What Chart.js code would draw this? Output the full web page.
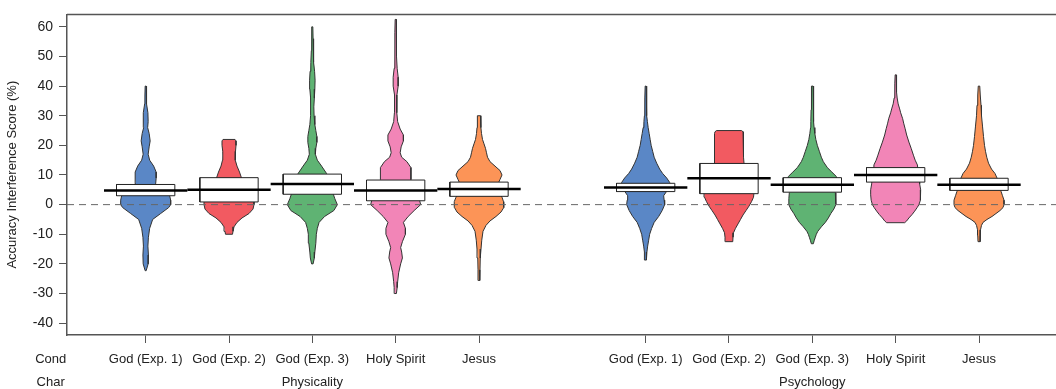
<!DOCTYPE html>
<html>
<head>
<meta charset="utf-8">
<script src="https://cdn.jsdelivr.net/npm/chart.js@4.4.0/dist/chart.umd.min.js"></script>
<style>
  html, body { margin: 0; padding: 0; background: #fff; }
  #wrap { width: 1056px; height: 389px; }
</style>
</head>
<body>
<div id="wrap"><canvas id="chart" width="1056" height="389"></canvas></div>
<script>
// ---------- Data ----------
const CONDS = ["God (Exp. 1)", "God (Exp. 2)", "God (Exp. 3)", "Holy Spirit", "Jesus"];
const CHARS = ["Physicality", "Psychology"];
const Y_TICKS = [-40, -30, -20, -10, 0, 10, 20, 30, 40, 50, 60];
const COLORS = ["#5A87C6", "#F25A61", "#5FB373", "#F285B7", "#FC9457"];

// density outlines: score levels and relative width (% of widest point)
const phys_god1_y = [-22.3, -20, -17, -14, -11, -8, -5, -3, -1, 0, 1.5, 3, 5, 7, 9, 11, 13, 15, 17, 19.5, 21.5, 24, 26, 28, 31, 34, 37, 40];
const phys_god1_d = [2, 10, 11, 9, 11, 16, 28, 60, 92, 100, 100, 96, 72, 40, 42, 42, 32, 16, 10, 14, 18, 14, 8, 10, 9, 4, 3, 2];
const phys_god2_y = [-10, -9, -7.5, -6, -4.5, -3, -1.5, 0, 1.5, 3, 5, 7, 9, 11, 13, 15, 16.5, 18, 20, 21.5, 22];
const phys_god2_d = [14, 16, 20, 32, 52, 80, 96, 100, 100, 92, 76, 60, 50, 42, 32, 26, 24, 26, 28, 28, 24];
const phys_god3_y = [-20, -18, -16, -13, -10, -8, -6, -4, -2, 0, 2, 4, 6, 8, 10.5, 13, 15, 17, 19, 21, 23, 25, 27, 30, 33, 36, 39, 42, 45, 48, 52, 56, 60];
const phys_god3_d = [3, 8, 10, 14, 16, 20, 27, 49, 86, 100, 90, 82, 73, 65, 57, 37, 20, 12, 14, 18, 18, 14, 10, 7, 6, 8, 10, 11, 9, 6, 4, 3, 2];
const phys_hs_y = [-30, -28, -26, -23, -20, -18, -16, -14.5, -12.5, -10, -8, -6, -4, -2, 0, 2, 4, 6, 8.5, 10.5, 12.5, 14.5, 16, 17.5, 19.5, 21.5, 23.5, 25.5, 28, 31, 34, 37, 40, 43, 46, 50, 54, 58, 62.5];
const phys_hs_d = [3, 6, 8, 12, 20, 27, 24, 20, 27, 39, 39, 31, 50, 74, 100, 94, 78, 65, 61, 61, 61, 45, 24, 18, 22, 31, 31, 18, 8, 5, 4, 5, 10, 10, 6, 4, 3, 3, 2];
const phys_jesus_y = [-25.6, -22, -18, -15, -12, -9, -7, -5.5, -4, -2.5, -1, 0, 1, 2.5, 4, 5.5, 7, 8.5, 10, 11.5, 13, 14.5, 16, 17.5, 19, 20.5, 22, 24, 26, 28, 30];
const phys_jesus_d = [3, 4, 5, 8, 11, 16, 28, 44, 68, 88, 98, 100, 98, 92, 80, 72, 76, 84, 92, 84, 64, 44, 34, 30, 26, 20, 14, 10, 8, 7, 6];
const psy_god1_y = [-18.7, -16, -14, -12, -10, -8, -6, -4, -2, 0, 1.5, 3, 4.5, 6, 7.5, 9, 10.5, 12, 14, 16, 18, 20, 22, 24, 26, 28, 30, 33, 36, 40];
const psy_god1_d = [3, 5, 8, 12, 16, 24, 34, 52, 66, 76, 74, 72, 84, 100, 96, 84, 68, 56, 44, 34, 28, 22, 18, 14, 10, 7, 5, 4, 3, 2];
const psy_god2_y = [-12.5, -11, -9.5, -8, -6.5, -5, -3.5, -2, -0.5, 1, 2.5, 4, 6, 8, 10, 12, 14, 16, 18, 20, 22, 24, 24.6, 25];
const psy_god2_d = [15, 16, 18, 26, 36, 46, 56, 68, 80, 90, 98, 100, 92, 80, 70, 64, 60, 58, 58, 58, 58, 58, 56, 50];
const psy_god3_y = [-13.2, -12, -11, -10, -9, -7.5, -6, -4.5, -3, -1.5, 0, 2, 4, 6, 8, 9.5, 11, 12.5, 14.5, 16, 18, 20, 22, 24, 26, 28, 32, 36, 40];
const psy_god3_d = [4, 8, 12, 16, 22, 36, 52, 64, 74, 86, 94, 94, 92, 96, 100, 96, 78, 60, 44, 36, 28, 20, 14, 10, 7, 6, 5, 4, 3];
const psy_hs_y = [-6.1, -5.5, -4.5, -3.3, -2.2, -1, 0, 1.5, 3.3, 5, 7, 9, 11, 13.4, 15, 16.7, 19, 21.1, 23.5, 25.6, 27.5, 29, 31, 32.3, 34, 36, 38, 41, 43.8];
const psy_hs_d = [36, 44, 53, 66, 76, 86, 93, 98, 100, 100, 96, 94, 90, 87, 78, 71, 62, 53, 44, 38, 32, 28, 20, 16, 10, 6, 4, 3, 2];
const psy_jesus_y = [-12.5, -10.5, -8.5, -7, -6, -5, -4, -3, -2, -1, 0, 1.5, 3, 4.5, 6, 7.5, 9, 10.5, 12, 14, 16, 18, 20, 23, 26.5, 30, 33.5, 37, 40];
const psy_jesus_d = [4, 5, 6, 10, 16, 32, 52, 68, 84, 96, 100, 100, 94, 88, 84, 78, 72, 64, 50, 38, 31, 26, 22, 18, 14, 10, 8, 5, 3];

// means and 95% inference bands, same order as the beans
const MEANS   = [4.8, 5.0, 7.0, 4.8, 5.3, 5.8, 8.9, 6.7, 10.0, 6.7];
const BAND_LO = [3.0, 0.9, 3.5, 1.3, 2.8, 4.4, 3.7, 4.2, 7.6, 4.8];
const BAND_HI = [6.8, 9.1, 10.3, 8.3, 7.6, 7.2, 13.9, 9.1, 12.5, 8.9];

const BEANS = [
  [phys_god1_y, phys_god1_d], [phys_god2_y, phys_god2_d], [phys_god3_y, phys_god3_d],
  [phys_hs_y, phys_hs_d], [phys_jesus_y, phys_jesus_d],
  [psy_god1_y, psy_god1_d], [psy_god2_y, psy_god2_d], [psy_god3_y, psy_god3_d],
  [psy_hs_y, psy_hs_d], [psy_jesus_y, psy_jesus_d],
];

// ---------- Layout ----------
const X_MIN = 0.056, X_MAX = 11.924;
const BEAN_W = 0.3, BAND_W = 0.35, MEAN_W = 0.5;
const xPos = (i) => Math.floor(i / 5) * 6 + (i % 5) + 1;
const POSITIONS = BEANS.map((_, i) => xPos(i));
const FONT = "'Liberation Sans', Arial, Helvetica, sans-serif";

// ---------- Datasets ----------
const datasets = [];
BEANS.forEach(([ys, ds], i) => {
  const cx = xPos(i);
  const left = ys.map((y, k) => ({ x: cx - BEAN_W * ds[k] / 100, y }));
  const right = ys.map((y, k) => ({ x: cx + BEAN_W * ds[k] / 100, y })).reverse();
  datasets.push({ data: [...left, ...right, left[0]], polyFill: COLORS[i % 5], borderColor: "#333", borderWidth: 1, order: 4 });

  const lo = BAND_LO[i], hi = BAND_HI[i];
  datasets.push({
    data: [{ x: cx - BAND_W, y: lo }, { x: cx + BAND_W, y: lo }, { x: cx + BAND_W, y: hi }, { x: cx - BAND_W, y: hi }, { x: cx - BAND_W, y: lo }],
    polyFill: "#fff", borderColor: "#222", borderWidth: 1, order: 2,
  });

  datasets.push({ data: [{ x: cx - MEAN_W, y: MEANS[i] }, { x: cx + MEAN_W, y: MEANS[i] }], borderColor: "#000", borderWidth: 2.5, order: 1 });
});
datasets.push({ data: [{ x: X_MIN, y: 0 }, { x: X_MAX, y: 0 }], borderColor: "#666", borderWidth: 1, borderDash: [7, 5], order: 3 });
datasets.forEach((d) => Object.assign(d, { showLine: true, pointRadius: 0, tension: 0, fill: false }));

// ---------- Plugins ----------
const polyFill = {
  id: "polyFill",
  beforeDatasetDraw(chart, args) {
    const ds = chart.data.datasets[args.index];
    if (!ds.polyFill) return;
    const ctx = chart.ctx;
    const { left, top, right, bottom } = chart.chartArea;
    ctx.save();
    ctx.beginPath();
    ctx.rect(left, top, right - left, bottom - top);
    ctx.clip();
    ctx.beginPath();
    args.meta.data.forEach((p, k) => (k ? ctx.lineTo(p.x, p.y) : ctx.moveTo(p.x, p.y)));
    ctx.closePath();
    ctx.fillStyle = ds.polyFill;
    ctx.fill();
    ctx.restore();
  },
};

const frameAndRows = {
  id: "frameAndRows",
  afterDraw(chart) {
    const ctx = chart.ctx;
    const { left, top, right } = chart.chartArea;
    const xs = chart.scales.x;
    ctx.save();
    ctx.strokeStyle = "#555";
    ctx.lineWidth = 1.5;
    ctx.beginPath();
    ctx.moveTo(left, top);
    ctx.lineTo(right, top);
    ctx.stroke();
    ctx.fillStyle = "#222";
    ctx.font = "13px " + FONT;
    ctx.textAlign = "center";
    ctx.textBaseline = "middle";
    ctx.fillText("Cond", xs.getPixelForValue(-0.14), xs.top + 24);
    ctx.fillText("Char", xs.getPixelForValue(-0.14), xs.top + 47);
    ctx.restore();
  },
};

// ---------- Chart ----------
Chart.defaults.font.family = FONT;
Chart.defaults.color = "#222";

new Chart(document.getElementById("chart"), {
  type: "scatter",
  data: { datasets },
  options: {
    responsive: false,
    animation: false,
    layout: { padding: { top: 11, left: 0, right: 0, bottom: 0 } },
    plugins: { legend: { display: false }, tooltip: { enabled: false } },
    scales: {
      x: {
        type: "linear",
        min: X_MIN,
        max: X_MAX,
        afterBuildTicks: (s) => { s.ticks = POSITIONS.map((v) => ({ value: v })); },
        afterFit: (s) => { s.height = 54; },
        grid: { drawOnChartArea: false, tickLength: 8, color: "#555" },
        border: { color: "#555", width: 1.5 },
        ticks: {
          autoSkip: false,
          maxRotation: 0,
          padding: 5,
          color: "#222",
          font: { size: 13, lineHeight: 23 / 13 },
          callback: (v, i) => (i % 5 === 2 ? [CONDS[i % 5], CHARS[Math.floor(i / 5)]] : CONDS[i % 5]),
        },
      },
      y: {
        min: -44,
        max: 64.2,
        afterBuildTicks: (s) => { s.ticks = Y_TICKS.map((v) => ({ value: v })); },
        afterFit: (s) => { s.width = 67; },
        grid: { drawOnChartArea: false, tickLength: 8, color: "#555" },
        border: { color: "#555", width: 1.5 },
        ticks: { padding: 6, color: "#222", font: { size: 14 } },
        title: {
          display: true,
          text: "Accuracy Interference Score (%)",
          color: "#222",
          font: { size: 13 },
          padding: { top: 5, bottom: 0 },
        },
      },
    },
  },
  plugins: [polyFill, frameAndRows],
});
</script>
</body>
</html>
